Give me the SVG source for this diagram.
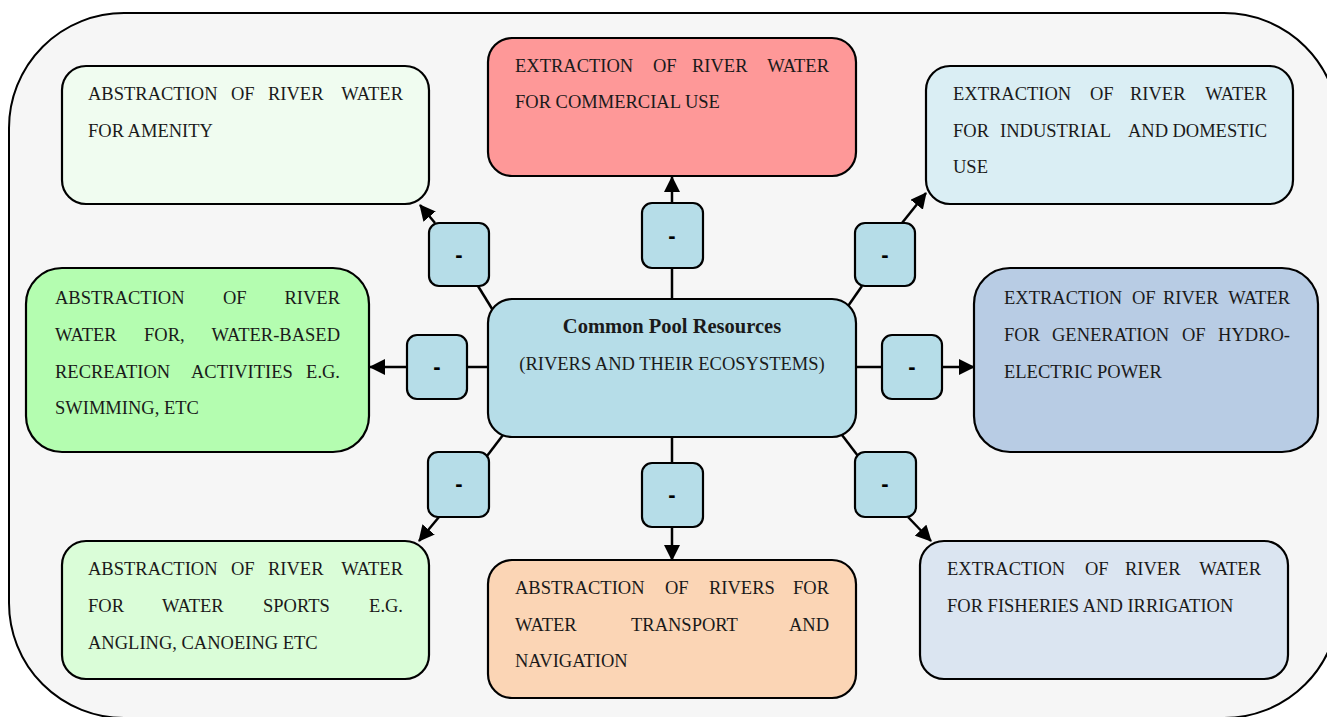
<svg xmlns="http://www.w3.org/2000/svg" width="1327" height="717" viewBox="0 0 1327 717">
  <style>
    .frame { fill: #f6f6f6; stroke: #000; stroke-width: 2; }
    .node { stroke: #000; stroke-width: 2.2; }
    .tag { fill: #b6dde8; stroke: #000; stroke-width: 2.2; }
    .txt { font-family: "Liberation Serif", "Times New Roman", serif; font-size: 18.5px; fill: #1a1a1a; }
    .title { font-weight: bold; font-size: 20.5px; }
    .end { text-anchor: end; }
    .dash { font-family: "Liberation Sans", Arial, sans-serif; font-size: 22px; font-weight: bold; fill: #000; text-anchor: middle; }
    .link { stroke: #000; stroke-width: 2.5; fill: none; }
    .arrow { marker-end: url(#head); }
  </style>
  <defs>
    <marker id="head" markerUnits="userSpaceOnUse" markerWidth="16" markerHeight="16" refX="15" refY="8" orient="auto">
      <path d="M0,0 L16,8 L0,16 z" fill="#000"/>
    </marker>
  </defs>

  <rect class="frame" x="9" y="13" width="1330" height="705" rx="115" ry="115"/>

  <g id="connectors">
    <!-- hub to labelled tags -->
    <line class="link" x1="672" y1="300" x2="672" y2="268"/>
    <line class="link" x1="494" y1="312" x2="478" y2="286"/>
    <line class="link" x1="846" y1="309" x2="862" y2="286"/>
    <line class="link" x1="488" y1="367" x2="467" y2="367"/>
    <line class="link" x1="856" y1="367" x2="882" y2="367"/>
    <line class="link" x1="503" y1="435" x2="487" y2="456"/>
    <line class="link" x1="672" y1="437" x2="672" y2="463"/>
    <line class="link" x1="842" y1="435" x2="858" y2="456"/>
    <!-- tags to uses -->
    <line class="link arrow" x1="672" y1="203" x2="672" y2="177"/>
    <line class="link arrow" x1="435" y1="223" x2="420" y2="205"/>
    <line class="link arrow" x1="902" y1="223" x2="926" y2="193"/>
    <line class="link arrow" x1="407" y1="367" x2="370" y2="367"/>
    <line class="link arrow" x1="942" y1="367" x2="974" y2="367"/>
    <line class="link arrow" x1="439" y1="517" x2="419" y2="541"/>
    <line class="link arrow" x1="672" y1="527" x2="672" y2="560"/>
    <line class="link arrow" x1="908" y1="517" x2="931" y2="541"/>
  </g>

  <g id="hub">
    <rect class="node" x="488" y="299" width="368" height="138" rx="24" fill="#b6dde8"/>
    <text class="txt title" x="672" y="333" text-anchor="middle">Common Pool Resources</text>
    <text class="txt" x="672" y="370" text-anchor="middle">(RIVERS AND THEIR ECOSYSTEMS)</text>
  </g>

  <g id="amenity">
    <rect class="node" x="62" y="66" width="367" height="138" rx="24" fill="#f0fcf0"/>
    <text class="txt" y="100"><tspan x="88">ABSTRACTION</tspan><tspan x="231">OF</tspan><tspan x="268">RIVER</tspan><tspan class="end" x="403">WATER</tspan></text>
    <text class="txt" x="88" y="137">FOR AMENITY</text>
  </g>

  <g id="commercial">
    <rect class="node" x="488" y="38" width="368" height="138" rx="24" fill="#fe9898"/>
    <text class="txt" y="72"><tspan x="515">EXTRACTION</tspan><tspan x="653">OF</tspan><tspan x="692">RIVER</tspan><tspan class="end" x="829">WATER</tspan></text>
    <text class="txt" x="515" y="108">FOR COMMERCIAL USE</text>
  </g>

  <g id="industrial">
    <rect class="node" x="926" y="66" width="367" height="138" rx="24" fill="#daeef4"/>
    <text class="txt" y="100"><tspan x="953">EXTRACTION</tspan><tspan x="1090">OF</tspan><tspan x="1130">RIVER</tspan><tspan class="end" x="1267">WATER</tspan></text>
    <text class="txt" y="137"><tspan x="953">FOR</tspan><tspan x="1000">INDUSTRIAL</tspan><tspan x="1128">AND</tspan><tspan class="end" x="1267">DOMESTIC</tspan></text>
    <text class="txt" x="953" y="173">USE</text>
  </g>

  <g id="recreation">
    <rect class="node" x="26" y="268" width="343" height="184" rx="36" fill="#b4fdb0"/>
    <text class="txt" y="304"><tspan x="55">ABSTRACTION</tspan><tspan x="223">OF</tspan><tspan class="end" x="340">RIVER</tspan></text>
    <text class="txt" y="341"><tspan x="55">WATER</tspan><tspan x="144">FOR,</tspan><tspan class="end" x="340">WATER-BASED</tspan></text>
    <text class="txt" y="378"><tspan x="55">RECREATION</tspan><tspan x="191">ACTIVITIES</tspan><tspan class="end" x="340">E.G.</tspan></text>
    <text class="txt" x="55" y="414">SWIMMING, ETC</text>
  </g>

  <g id="hydro">
    <rect class="node" x="974" y="268" width="344" height="184" rx="36" fill="#b8cce4"/>
    <text class="txt" y="304"><tspan x="1004">EXTRACTION</tspan><tspan x="1132">OF</tspan><tspan x="1163">RIVER</tspan><tspan class="end" x="1290">WATER</tspan></text>
    <text class="txt" y="341"><tspan x="1004">FOR</tspan><tspan x="1052">GENERATION</tspan><tspan x="1182">OF</tspan><tspan class="end" x="1290">HYDRO-</tspan></text>
    <text class="txt" x="1004" y="378">ELECTRIC POWER</text>
  </g>

  <g id="sports">
    <rect class="node" x="62" y="541" width="367" height="138" rx="24" fill="#dafdd8"/>
    <text class="txt" y="575"><tspan x="88">ABSTRACTION</tspan><tspan x="231">OF</tspan><tspan x="268">RIVER</tspan><tspan class="end" x="403">WATER</tspan></text>
    <text class="txt" y="612"><tspan x="88">FOR</tspan><tspan x="162">WATER</tspan><tspan x="263">SPORTS</tspan><tspan class="end" x="403">E.G.</tspan></text>
    <text class="txt" x="88" y="649">ANGLING, CANOEING ETC</text>
  </g>

  <g id="transport">
    <rect class="node" x="488" y="560" width="368" height="138" rx="24" fill="#fbd5b5"/>
    <text class="txt" y="594"><tspan x="515">ABSTRACTION</tspan><tspan x="665">OF</tspan><tspan x="709">RIVERS</tspan><tspan class="end" x="829">FOR</tspan></text>
    <text class="txt" y="631"><tspan x="515">WATER</tspan><tspan x="631">TRANSPORT</tspan><tspan class="end" x="829">AND</tspan></text>
    <text class="txt" x="515" y="667">NAVIGATION</text>
  </g>

  <g id="fisheries">
    <rect class="node" x="920" y="541" width="368" height="138" rx="24" fill="#dbe5f1"/>
    <text class="txt" y="575"><tspan x="947">EXTRACTION</tspan><tspan x="1085">OF</tspan><tspan x="1125">RIVER</tspan><tspan class="end" x="1261">WATER</tspan></text>
    <text class="txt" x="947" y="612">FOR FISHERIES AND IRRIGATION</text>
  </g>

  <g id="tag-amenity">
    <rect class="tag" x="429" y="223" width="60" height="63" rx="10"/>
    <text class="dash" x="459" y="262">-</text>
  </g>
  <g id="tag-commercial">
    <rect class="tag" x="642" y="203" width="61" height="65" rx="10"/>
    <text class="dash" x="672" y="243">-</text>
  </g>
  <g id="tag-industrial">
    <rect class="tag" x="855" y="223" width="60" height="63" rx="10"/>
    <text class="dash" x="885" y="262">-</text>
  </g>
  <g id="tag-recreation">
    <rect class="tag" x="407" y="335" width="60" height="64" rx="10"/>
    <text class="dash" x="437" y="374">-</text>
  </g>
  <g id="tag-hydro">
    <rect class="tag" x="882" y="335" width="60" height="64" rx="10"/>
    <text class="dash" x="912" y="374">-</text>
  </g>
  <g id="tag-sports">
    <rect class="tag" x="428" y="452" width="61" height="65" rx="10"/>
    <text class="dash" x="459" y="491">-</text>
  </g>
  <g id="tag-transport">
    <rect class="tag" x="642" y="463" width="61" height="64" rx="10"/>
    <text class="dash" x="672" y="502">-</text>
  </g>
  <g id="tag-fisheries">
    <rect class="tag" x="855" y="452" width="61" height="65" rx="10"/>
    <text class="dash" x="885" y="491">-</text>
  </g>
</svg>
